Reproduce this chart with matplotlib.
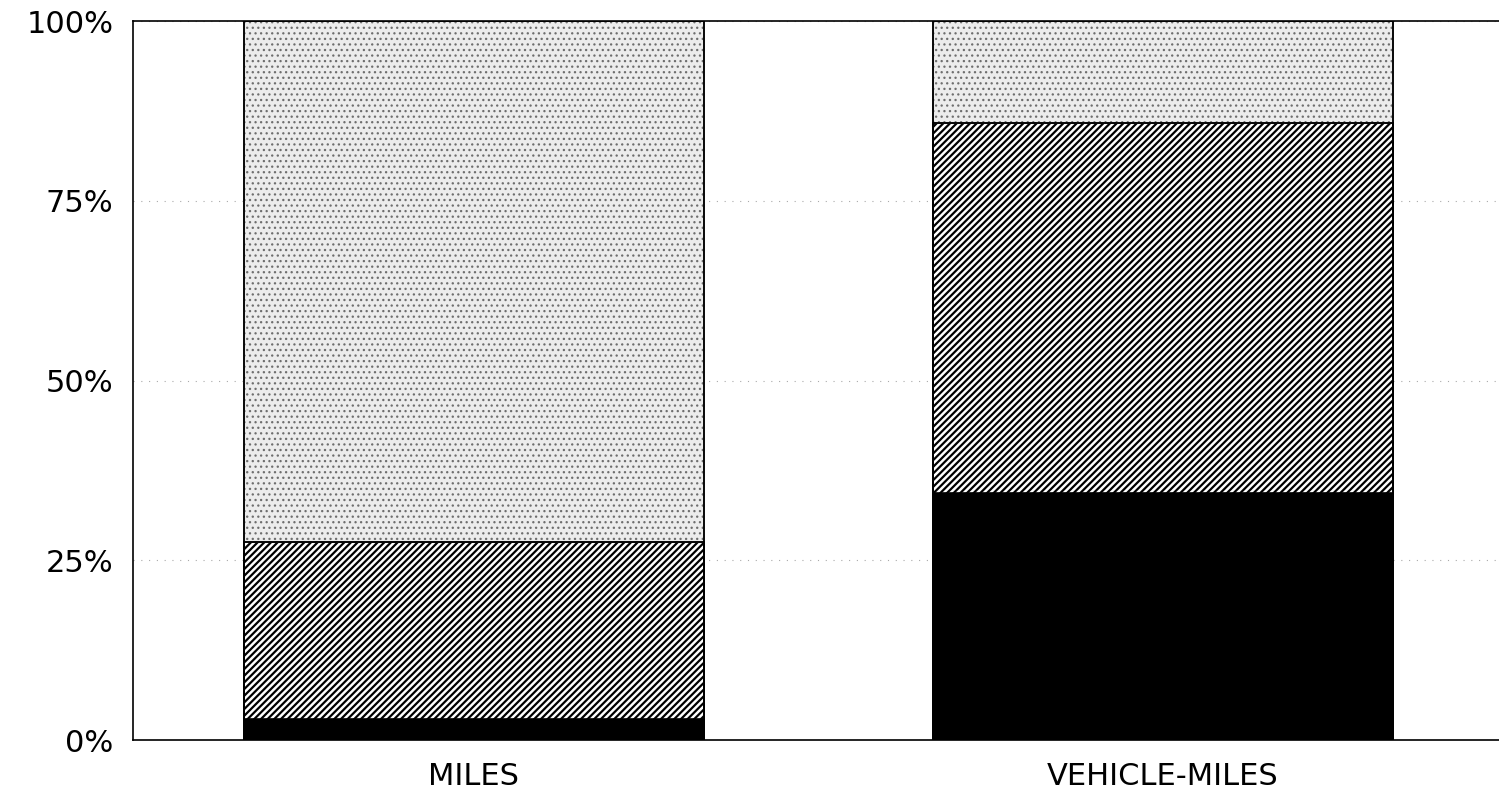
import matplotlib
matplotlib.use("Agg")
import matplotlib.pyplot as plt
import numpy as np

plt.rcParams['font.family'] = ['DejaVu Sans']
plt.rcParams['hatch.linewidth'] = 1.6

categories = ['MILES', 'VEHICLE-MILES']
# shares (%) stacked bottom to top
bottom_share = [2.9, 34.4]
middle_share = [24.6, 51.4]
top_share = [72.5, 14.2]
y_ticks = [0, 25, 50, 75, 100]
y_labels = ['0%', '25%', '50%', '75%', '100%']

fig = plt.figure(figsize=(14.99, 7.99), dpi=100)
ax = fig.add_axes([0.0887, 0.0738, 0.9113, 0.8999])

x = np.arange(len(categories))
w = 0.667
b1 = np.array(bottom_share)
b2 = b1 + np.array(middle_share)

ax.bar(x, bottom_share, w, color='black', edgecolor='black', linewidth=1.2)
ax.bar(x, middle_share, w, bottom=b1, color='white', edgecolor='black',
       hatch='/////', linewidth=1.2)
# stipple layer: light dots
plt.rcParams['hatch.linewidth'] = 0.9
ax.bar(x, top_share, w, bottom=b2, color='#ececec', edgecolor='#6e6e6e',
       hatch='...', linewidth=1.2)
# outlines in black
ax.bar(x, b2 + np.array(top_share), w, color='none', edgecolor='black', linewidth=1.3)
ax.bar(x, b2, w, color='none', edgecolor='black', linewidth=1.3)

ax.set_xlim(-0.495, 1.488)
ax.set_ylim(0, 100)
ax.set_yticks(y_ticks)
ax.set_yticklabels(y_labels, fontsize=22)
ax.set_xticks(x)
ax.set_xticklabels(categories, fontsize=22)
ax.tick_params(axis='both', length=0)
ax.tick_params(axis='y', pad=14)
ax.tick_params(axis='x', pad=16)

ax.yaxis.grid(True, color='#aaaaaa', linestyle=(0, (1, 6)), linewidth=0.8)
ax.set_axisbelow(True)
ax.spines['right'].set_visible(False)
for s in ['left', 'top', 'bottom']:
    ax.spines[s].set_linewidth(1.2)

fig.savefig('out.png', dpi=100)
